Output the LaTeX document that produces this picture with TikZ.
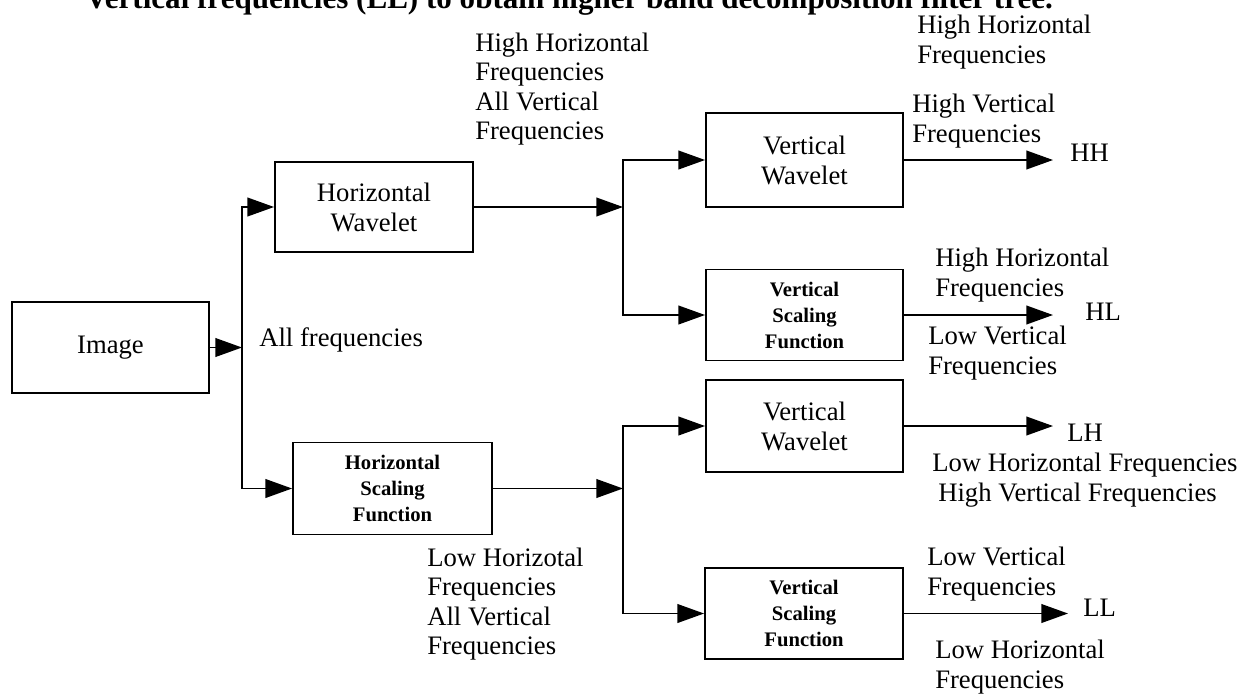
\documentclass[tikz,border=0pt]{standalone}
\usepackage{fontspec}
\setmainfont{Liberation Serif}
\usetikzlibrary{arrows.meta}
\begin{document}
\begin{tikzpicture}[x=0.75pt,y=-0.75pt,
  box/.style={draw,line width=1.4pt,inner sep=0pt,align=center,font=\fontsize{20}{22.5}\selectfont},
  sbox/.style={draw,line width=1.4pt,inner sep=0pt,align=center,font=\bfseries\fontsize{15.5}{19.5}\selectfont},
  lbl/.style={inner sep=0pt,anchor=west,align=left,font=\fontsize{20}{22}\selectfont},
  conn/.style={line width=1.4pt},
  tip/.tip={Triangle[length=20pt,width=14pt]},
  arr/.style={line width=1.4pt,-tip},
  darr/.style={line width=1.4pt,tip-tip},
]
\useasboundingbox (0,0) rectangle (1255,693);
\fill[white] (0,0) rectangle (1255,693);

% cut-off caption line at the top
\node[inner sep=0pt,anchor=base west,font=\bfseries\fontsize{23.3}{25}\selectfont] (title) at (85,8) {Vertical frequencies (LL) to obtain higher band decomposition filter tree.};

% boxes
\node[box,minimum width=147.75pt,minimum height=68.25pt] (img) at (110.5,347.5) {Image};
\node[box,minimum width=148.5pt,minimum height=67.5pt] (hw) at (374,207) {Horizontal\\Wavelet};
\node[sbox,minimum width=149.25pt,minimum height=69pt] (hsf) at (392.5,488.5) {Horizontal\\Scaling\\Function};
\node[box,minimum width=147.75pt,minimum height=70.5pt] (vw1) at (804.5,160) {Vertical\\Wavelet};
\node[sbox,minimum width=147.75pt,minimum height=68.25pt] (vsf1) at (804.5,315) {Vertical\\Scaling\\Function};
\node[box,minimum width=147.75pt,minimum height=69pt] (vw2) at (804.5,426) {Vertical\\Wavelet};
\node[sbox,minimum width=148.5pt,minimum height=68.25pt] (vsf2) at (804,613.5) {Vertical\\Scaling\\Function};

% trunk / output x positions
\coordinate (x1) at (242,0);
\coordinate (x2) at (623,0);
\coordinate (xo) at (1053,0);
\coordinate (xoll) at (1068,0);

% connectors
\draw[arr] (img.east) -- (img.east -| x1);
\draw[darr] (hw.west) -- (x1 |- hw.west) -- (x1 |- hsf.west) -- (hsf.west);
\draw[arr] (hw.east) -- (hw.east -| x2);
\draw[darr] (vw1.west) -- (x2 |- vw1.west) -- (x2 |- vsf1.west) -- (vsf1.west);
\draw[arr] (hsf.east) -- (hsf.east -| x2);
\draw[darr] (vw2.west) -- (x2 |- vw2.west) -- (x2 |- vsf2.west) -- (vsf2.west);
\draw[arr] (vw1.east) -- (vw1.east -| xo);
\draw[arr] (vsf1.east) -- (vsf1.east -| xo);
\draw[arr] (vw2.east) -- (vw2.east -| xo);
\draw[arr] (vsf2.east) -- (vsf2.east -| xoll);

% labels
\node[lbl] (all) at (259,340) {All frequencies};
\node[lbl] (lhw) at (475,89) {High Horizontal\\Frequencies\\All Vertical\\Frequencies};
\node[lbl] (lhsf) at (427,604) {Low Horizotal\\Frequencies\\All Vertical\\Frequencies};
\node[lbl] (hhtop) at (917,42) {High Horizontal\\Frequencies};
\node[lbl] (hhbot) at (912,121) {High Vertical\\Frequencies};
\node[lbl] (hh) at (1070,153) {HH};
\node[lbl] (hltop) at (935,275) {High Horizontal\\Frequencies};
\node[lbl] (hl) at (1085,312) {HL};
\node[lbl] (hlbot) at (928,353) {Low Vertical\\Frequencies};
\node[lbl] (lh) at (1067,433) {LH};
\node[lbl] (lhbot) at (932,480) {Low Horizontal Frequencies\\\hspace*{4.5pt}High Vertical Frequencies};
\node[lbl] (lltop) at (927,574) {Low Vertical\\Frequencies};
\node[lbl] (ll) at (1083,608) {LL};
\node[lbl] (llbot) at (935,667) {Low Horizontal\\Frequencies};
\end{tikzpicture}
\end{document}
